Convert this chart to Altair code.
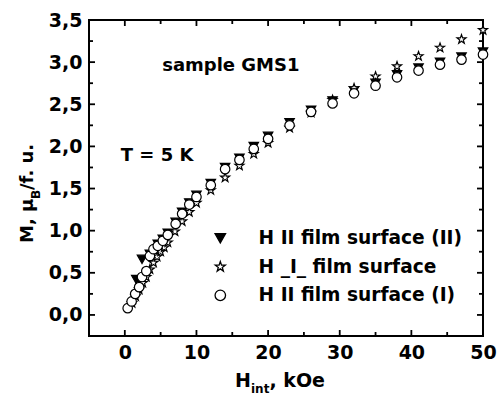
import altair as alt
import pandas as pd

# ---- data ----
series_names = ["H II film surface (II)", "H _I_ film surface", "H II film surface (I)"]

tri_x = [1.6, 2.4, 3.5, 4.6, 5.3, 6.0, 7.1, 8.0, 9.0, 10.0, 12.0, 14.0, 16.0, 18.0, 20.0,
         23.0, 26.0, 29.0, 32.0, 35.0, 38.0, 41.0, 44.0, 47.0, 50.0]
tri_y = [0.42, 0.66, 0.72, 0.84, 0.90, 0.97, 1.10, 1.22, 1.33, 1.42, 1.56, 1.75, 1.86, 2.00, 2.12,
         2.28, 2.43, 2.54, 2.66, 2.75, 2.85, 2.93, 3.00, 3.06, 3.12]

star_x = [1.0, 1.5, 2.0, 2.5, 3.0, 3.5, 4.0, 4.5, 5.0, 5.5, 6.0, 7.0, 8.0, 9.0, 10.0, 12.0, 14.0,
          16.0, 18.0, 20.0, 23.0, 26.0, 29.0, 32.0, 35.0, 38.0, 41.0, 44.0, 47.0, 50.0]
star_y = [0.14, 0.22, 0.30, 0.38, 0.45, 0.54, 0.62, 0.69, 0.75, 0.80, 0.86, 0.99, 1.11, 1.22, 1.33,
          1.48, 1.63, 1.77, 1.91, 2.04, 2.22, 2.40, 2.55, 2.69, 2.83, 2.95, 3.07, 3.17, 3.27, 3.38]

circ_x = [0.4, 0.95, 1.45, 2.0, 2.4, 3.0, 3.5, 4.0, 4.6, 5.3, 6.0, 7.1, 8.0, 9.0, 10.0, 12.0, 14.0,
          16.0, 18.0, 20.0, 23.0, 26.0, 29.0, 32.0, 35.0, 38.0, 41.0, 44.0, 47.0, 50.0]
circ_y = [0.08, 0.16, 0.25, 0.33, 0.45, 0.52, 0.70, 0.78, 0.82, 0.88, 0.95, 1.08, 1.20, 1.31, 1.40,
          1.54, 1.73, 1.84, 1.97, 2.09, 2.25, 2.41, 2.51, 2.63, 2.72, 2.82, 2.90, 2.97, 3.03, 3.09]

x_major = [0, 10, 20, 30, 40, 50]
x_minor = [5, 15, 25, 35, 45]
y_major = [0.0, 0.5, 1.0, 1.5, 2.0, 2.5, 3.0, 3.5]
y_minor = [0.25, 0.75, 1.25, 1.75, 2.25, 2.75, 3.25]

ann_x = [4.5, 14.8]
ann_y = [1.89, 2.96]
ann_text = ["T = 5 K", "sample GMS1"]

# ---- build tables ----
df = pd.concat([
    pd.DataFrame({"H": tri_x, "M": tri_y, "series": series_names[0]}),
    pd.DataFrame({"H": star_x, "M": star_y, "series": series_names[1]}),
    pd.DataFrame({"H": circ_x, "M": circ_y, "series": series_names[2]}),
], ignore_index=True)

W, H = 394, 316
FONT = "DejaVu Sans"
STAR = ("M0,-1L0.235,-0.324L0.951,-0.309L0.380,0.124L0.588,0.809L0,0.4"
        "L-0.588,0.809L-0.380,0.124L-0.951,-0.309L-0.235,-0.324Z")

xs = alt.Scale(domain=[-5, 50], nice=False, zero=False)
ys = alt.Scale(domain=[-0.25, 3.5], nice=False, zero=False)

xaxis = alt.Axis(values=x_major, ticks=False, domain=False, grid=False, title=None,
                 labelFont=FONT, labelFontWeight="bold", labelFontSize=19, labelColor="black",
                 labelPadding=7, labelFlush=False, labelOverlap=False, labelBound=False)
yaxis = alt.Axis(values=y_major, ticks=False, domain=False, grid=False, title=None,
                 labelExpr="replace(format(datum.value, '.1f'), '.', ',')",
                 labelFont=FONT, labelFontWeight="bold", labelFontSize=19, labelColor="black",
                 labelPadding=7, labelFlush=False, labelOverlap=False, labelBound=False)

legend = alt.Legend(orient="none", legendX=122, legendY=209, title=None, padding=0,
                    labelFont=FONT, labelFontWeight="bold", labelFontSize=18.6, labelColor="black",
                    symbolSize=110, symbolStrokeColor="black", symbolStrokeWidth=1.3,
                    labelOffset=29, rowPadding=9.5, labelLimit=400)

points = alt.Chart(df).mark_point(filled=True, strokeWidth=1.2, opacity=1, size=90).encode(
    x=alt.X("H:Q", scale=xs, axis=xaxis),
    y=alt.Y("M:Q", scale=ys, axis=yaxis),
    shape=alt.Shape("series:N", scale=alt.Scale(domain=series_names,
                                                 range=["triangle-down", STAR, "circle"]),
                    legend=legend),
    fill=alt.Fill("series:N", scale=alt.Scale(domain=series_names,
                                               range=["black", "white", "white"]),
                  legend=legend),
    stroke=alt.Stroke("series:N", scale=alt.Scale(domain=series_names,
                                                   range=["black", "black", "black"]),
                      legend=legend),
)

def xticks(vals, length):
    d = pd.DataFrame({"v": vals})
    b = alt.Chart(d).mark_rule(color="black", strokeWidth=1.8).encode(
        x=alt.X("v:Q", scale=xs), y=alt.value(H), y2=alt.value(H - length))
    t = alt.Chart(d).mark_rule(color="black", strokeWidth=1.8).encode(
        x=alt.X("v:Q", scale=xs), y=alt.value(0), y2=alt.value(length))
    return b + t

def yticks(vals, length):
    d = pd.DataFrame({"v": vals})
    l = alt.Chart(d).mark_rule(color="black", strokeWidth=1.8).encode(
        y=alt.Y("v:Q", scale=ys), x=alt.value(0), x2=alt.value(length))
    r = alt.Chart(d).mark_rule(color="black", strokeWidth=1.8).encode(
        y=alt.Y("v:Q", scale=ys), x=alt.value(W), x2=alt.value(W - length))
    return l + r

ticks = xticks(x_major, 6) + xticks(x_minor, 4) + yticks(y_major, 6) + yticks(y_minor, 4)

ann = alt.Chart(pd.DataFrame({"x": ann_x, "y": ann_y, "t": ann_text})).mark_text(
    font=FONT, fontWeight="bold", fontSize=18, color="black", align="center", baseline="middle"
).encode(x=alt.X("x:Q", scale=xs), y=alt.Y("y:Q", scale=ys), text="t:N")

def label(txt, x, y, size, angle=0):
    kw = dict(font=FONT, fontWeight="bold", fontSize=size, color="black",
              align="left", baseline="alphabetic", text=txt)
    if angle:
        kw["angle"] = angle
    return alt.Chart(pd.DataFrame({"a": [0]})).mark_text(**kw).encode(
        x=alt.value(x), y=alt.value(y))

titles = (label("H", 146, 367, 19) + label("int", 162, 373, 12) + label(", kOe", 180.5, 367, 19)
          + label("M, \u03bc", -56, 223, 18, 270) + label("B", -49, 179, 12, 270)
          + label("/f. u.", -56, 170, 18, 270))

chart = alt.layer(ticks, points, ann, titles).properties(
    width=W, height=H,
    autosize=alt.AutoSizeParams(type="none"),
    padding={"left": 89, "top": 20, "right": 17, "bottom": 60},
    background="white",
).configure_view(stroke="black", strokeWidth=2)

chart.save("out.html", embed_options={"renderer": "svg", "actions": False})
